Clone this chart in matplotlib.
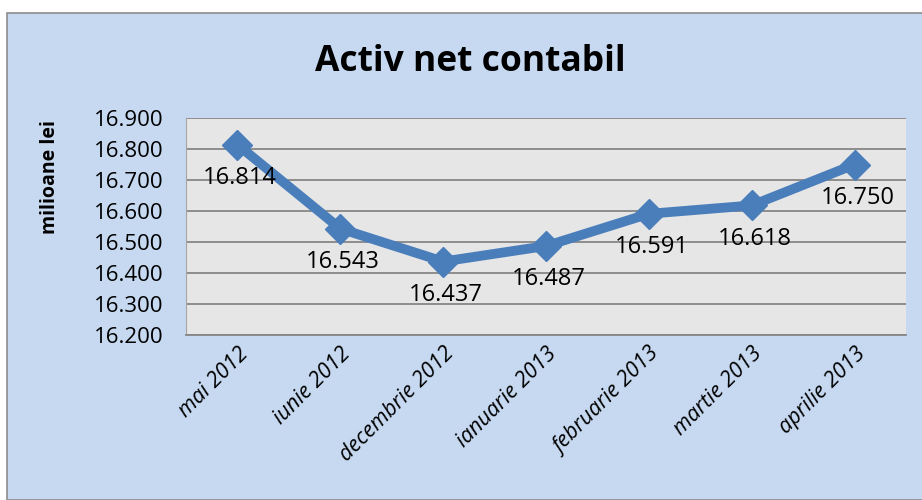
import matplotlib
matplotlib.use('Agg')
import matplotlib.pyplot as plt
from matplotlib.patches import Rectangle
#
months = ['mai 2012', 'iunie 2012', 'decembrie 2012', 'ianuarie 2013',
          'februarie 2013', 'martie 2013', 'aprilie 2013']
activ = [16.814, 16.543, 16.437, 16.487, 16.591, 16.618, 16.750]
yticks = [16.2, 16.3, 16.4, 16.5, 16.6, 16.7, 16.8, 16.9]
#
plt.rcParams['font.family'] = ['Open Sans', 'DejaVu Sans']
blue = '#4a7ebb'
fig = plt.figure(figsize=(9.22, 5.0), dpi=100)
fig.patch.set_facecolor('white')
# chart area background with grey border
bg = Rectangle((7/922, 0), 1.0, 1 - 13/500, transform=fig.transFigure,
               facecolor='#c6d9f1', edgecolor='#8c8c8c', lw=1.2, zorder=-10)
fig.add_artist(bg)
ax = fig.add_axes([186/922, 1 - 335/500, 720/922, 217/500])
ax.set_facecolor('#e6e6e6')
x = list(range(len(months)))
ax.plot(x, activ, color=blue, lw=7, marker='D', markersize=15, zorder=3)
for i, v in enumerate(activ):
    ax.annotate('{:.3f}'.format(v), (i, v), xytext=(2, -24), textcoords='offset points',
                ha='center', va='center', fontsize=17, color='black', zorder=4)
ax.set_xlim(-0.5, len(months) - 0.5)
ax.set_ylim(16.2, 16.9)
ax.set_yticks(yticks)
ax.set_yticklabels(['{:.3f}'.format(t) for t in yticks], fontsize=16)
ax.set_xticks(x)
ax.set_xticklabels(months, rotation=45, ha='right', rotation_mode='anchor',
                   fontsize=15.5, style='italic')
ax.tick_params(axis='y', length=0, pad=16)
ax.tick_params(axis='x', length=0, pad=6)
ax.yaxis.grid(True, color='#868686', lw=1.3)
ax.set_axisbelow(True)
for s in ['top', 'right']:
    ax.spines[s].set_visible(False)
ax.spines['left'].set_color('#a6a6a6')
ax.spines['bottom'].set_color('#868686')
ax.spines['bottom'].set_linewidth(1.3)
ax.set_ylabel('milioane lei', fontsize=14, fontweight='bold', va='center')
ax.yaxis.set_label_coords((50 - 186) / 720, (335 - 177) / 217)
fig.text(470/922, 1 - 62/500, 'Activ net contabil', ha='center', va='center',
         fontsize=25.5, fontweight='bold')
fig.savefig('out.png', dpi=100, facecolor=fig.get_facecolor())
